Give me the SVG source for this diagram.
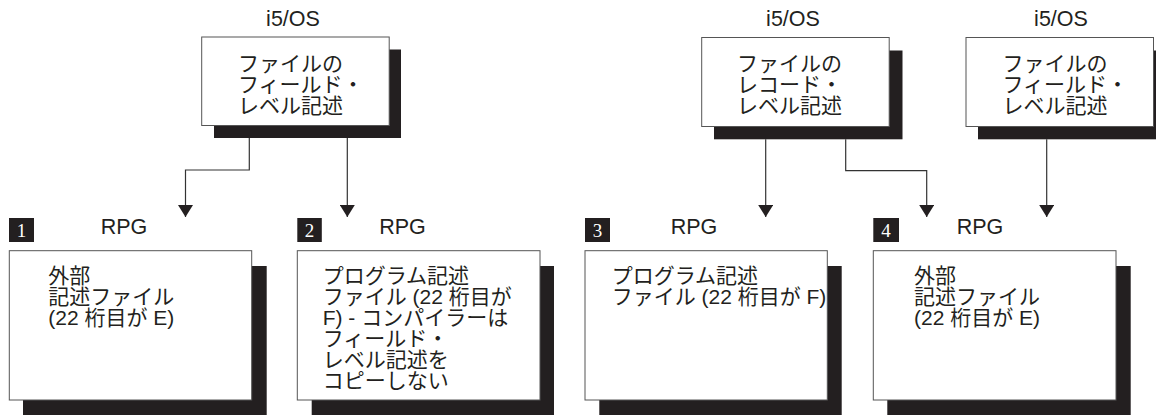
<svg xmlns="http://www.w3.org/2000/svg" width="1156" height="415" viewBox="0 0 1156 415">
<style>
.bg{fill:#ffffff}
.box{fill:#ffffff;stroke:#555555;stroke-width:1}
.sh{fill:#231f20}
.t{font-family:"Liberation Sans","Noto Sans CJK JP",sans-serif;font-size:21px;fill:#231f20}
.lbl{font-family:"Liberation Sans","Noto Sans CJK JP",sans-serif;font-size:21.5px;fill:#231f20;text-anchor:middle}
.badge{fill:#231f20}
.num{font-family:"Liberation Serif",serif;font-size:19px;fill:#ffffff;text-anchor:middle}
.c{fill:none;stroke:#333333;stroke-width:1.2}
</style>
<defs>
<marker id="arr" markerUnits="userSpaceOnUse" markerWidth="13" markerHeight="15" viewBox="0 0 13 15" refX="12" refY="7.5" orient="auto">
<path d="M0,0 L12,7.5 L0,15 Z" fill="#231f20"/>
</marker>
</defs>
<rect class="bg" x="0" y="0" width="1156" height="415"/>

<g id="os1">
<text class="lbl" x="293" y="26">i5/OS</text>
<rect class="sh" x="214" y="49.5" width="187" height="88.5"/>
<rect class="box" x="201.7" y="37" width="187.5" height="88.5"/>
<text class="t" x="238" y="71">ファイルの</text>
<text class="t" x="238" y="92">フィールド・</text>
<text class="t" x="238" y="113">レベル記述</text>
</g>

<g id="os2">
<text class="lbl" x="793" y="26">i5/OS</text>
<rect class="sh" x="714" y="50.5" width="188.5" height="88.8"/>
<rect class="box" x="701.7" y="37.5" width="187.5" height="89"/>
<text class="t" x="737" y="71">ファイルの</text>
<text class="t" x="737" y="92">レコード・</text>
<text class="t" x="737" y="113">レベル記述</text>
</g>

<g id="os3">
<text class="lbl" x="1061" y="26">i5/OS</text>
<rect class="sh" x="978" y="50.5" width="190" height="88.8"/>
<rect class="box" x="966" y="37.5" width="187.5" height="89"/>
<text class="t" x="1002.5" y="71">ファイルの</text>
<text class="t" x="1002.5" y="92">フィールド・</text>
<text class="t" x="1002.5" y="113">レベル記述</text>
</g>

<g id="connectors">
<path class="c" d="M249.3,138 V170 H185.5 V217" marker-end="url(#arr)"/>
<path class="c" d="M347.3,138 V217" marker-end="url(#arr)"/>
<path class="c" d="M765.7,139.3 V217" marker-end="url(#arr)"/>
<path class="c" d="M845.7,139.3 V170.7 H926.7 V217" marker-end="url(#arr)"/>
<path class="c" d="M1046.7,139.3 V217" marker-end="url(#arr)"/>
</g>

<g id="rpg1">
<rect class="badge" x="9" y="218" width="25" height="24"/>
<text class="num" x="21.5" y="237">1</text>
<text class="lbl" x="124" y="234">RPG</text>
<rect class="sh" x="23" y="266" width="243.7" height="160"/>
<rect class="box" x="9.3" y="250.7" width="242.4" height="149.3"/>
<text class="t" x="48.3" y="283">外部</text>
<text class="t" x="48.3" y="304">記述ファイル</text>
<text class="t" x="48.3" y="325">(22 桁目が E)</text>
</g>

<g id="rpg2">
<rect class="badge" x="297.3" y="218" width="24.5" height="24"/>
<text class="num" x="309.5" y="237">2</text>
<text class="lbl" x="402.5" y="234">RPG</text>
<rect class="sh" x="311.7" y="266" width="242.3" height="160"/>
<rect class="box" x="297.3" y="250.7" width="242.7" height="149.3"/>
<text class="t" x="322.7" y="283">プログラム記述</text>
<text class="t" x="322.7" y="304">ファイル (22 桁目が</text>
<text class="t" x="322.7" y="325">F) - コンパイラーは</text>
<text class="t" x="322.7" y="346">フィールド・</text>
<text class="t" x="322.7" y="367">レベル記述を</text>
<text class="t" x="322.7" y="388">コピーしない</text>
</g>

<g id="rpg3">
<rect class="badge" x="585" y="218" width="25" height="24"/>
<text class="num" x="597.5" y="237">3</text>
<text class="lbl" x="694" y="234">RPG</text>
<rect class="sh" x="599.3" y="266" width="242.4" height="160"/>
<rect class="box" x="585" y="250.7" width="242.3" height="149.3"/>
<text class="t" x="611.7" y="283">プログラム記述</text>
<text class="t" x="611.7" y="304">ファイル (22 桁目が F)</text>
</g>

<g id="rpg4">
<rect class="badge" x="873.3" y="218" width="25.7" height="24"/>
<text class="num" x="886" y="237">4</text>
<text class="lbl" x="980" y="234">RPG</text>
<rect class="sh" x="887.3" y="266" width="243.4" height="160"/>
<rect class="box" x="873.3" y="250.7" width="242.7" height="149.3"/>
<text class="t" x="914" y="283">外部</text>
<text class="t" x="914" y="304">記述ファイル</text>
<text class="t" x="914" y="325">(22 桁目が E)</text>
</g>
</svg>
